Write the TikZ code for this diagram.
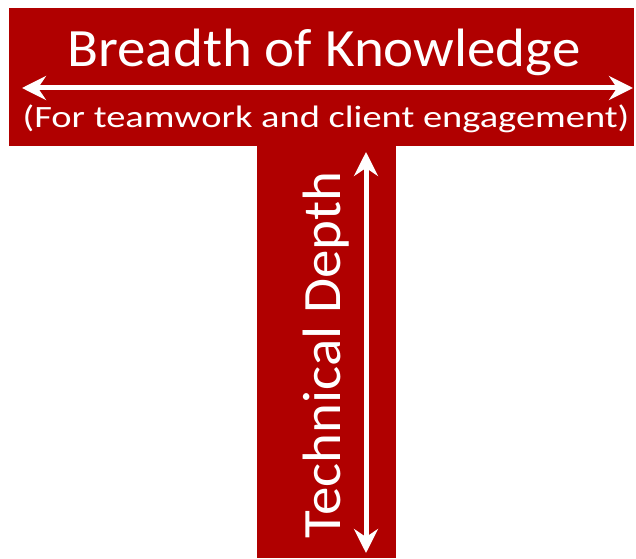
\documentclass[tikz,border=0pt]{standalone}
\usepackage{fontspec}
\setmainfont{Carlito}
\usetikzlibrary{arrows.meta, positioning}

\definecolor{tred}{RGB}{176,0,0}

\tikzset{
  whitearrow/.style={white, line width=5pt,
    {Stealth[length=24pt,width=24pt,inset=8pt]}-{Stealth[length=24pt,width=24pt,inset=8pt]}},
  whitetext/.style={white, inner sep=0pt, anchor=base}
}

\begin{document}
\begin{tikzpicture}[x=1pt,y=1pt]
    \useasboundingbox (0,0) rectangle (636,558);

    % The T shape
    \fill[tred] (9,412) rectangle (634,550);
    \fill[tred] (257,0) rectangle (396,412);

    % Crossbar: breadth
    \node[whitetext, font=\fontsize{54}{54}\selectfont] (breadth) at (324,491) {\scalebox{1.055}[1]{Breadth of Knowledge}};
    \coordinate (bl) at (22,470);
    \coordinate (br) at (633,470);
    \draw[whitearrow] (bl) -- (br);
    \node[whitetext, font=\fontsize{31}{31}\selectfont] (team) at (326,431) {\scalebox{1.24}[1]{(For teamwork and client engagement)}};

    % Stem: depth
    \node[whitetext, rotate=90, font=\fontsize{54}{54}\selectfont] (depth) at (340,203) {\scalebox{1.055}[1]{Technical Depth}};
    \coordinate (dt) at (366,406);
    \coordinate (db) at (366,5);
    \draw[whitearrow] (db) -- (dt);
\end{tikzpicture}
\end{document}
